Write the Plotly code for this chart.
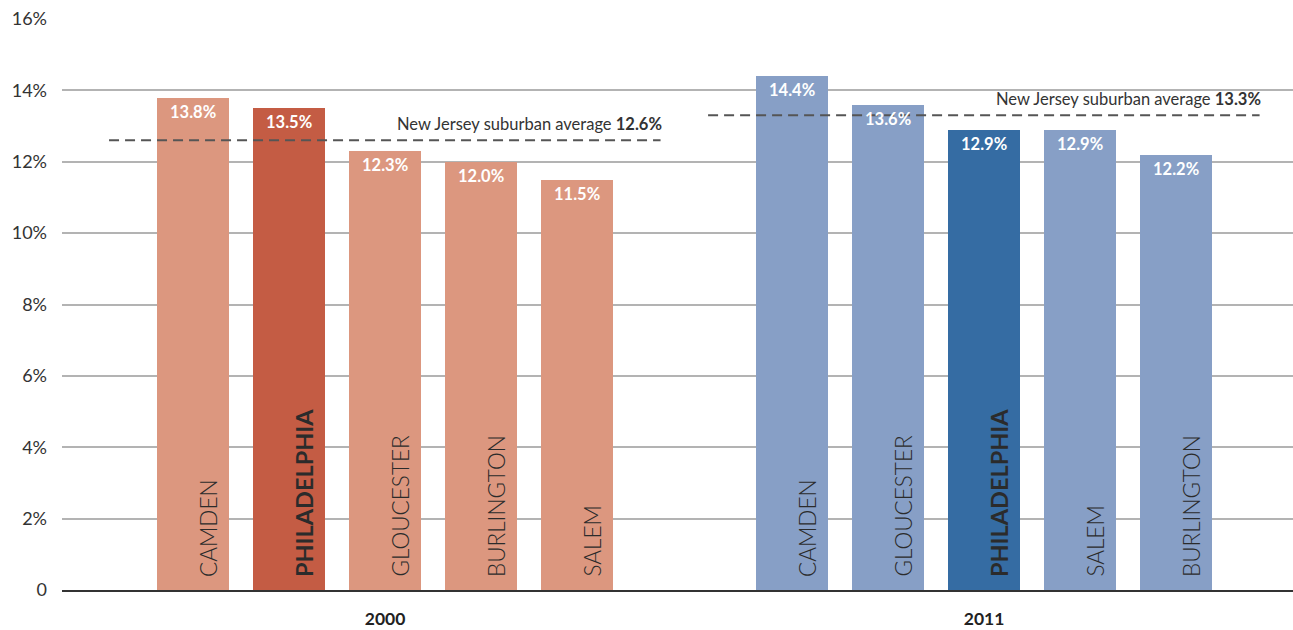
import plotly.graph_objects as go

# Share of residents (percent) by county, two survey years
years = ["2000", "2011"]
counties_2000 = ["CAMDEN", "PHILADELPHIA", "GLOUCESTER", "BURLINGTON", "SALEM"]
values_2000 = [13.8, 13.5, 12.3, 12.0, 11.5]
counties_2011 = ["CAMDEN", "GLOUCESTER", "PHILADELPHIA", "SALEM", "BURLINGTON"]
values_2011 = [14.4, 13.6, 12.9, 12.9, 12.2]
nj_avg = [12.6, 13.3]
highlight = "PHILADELPHIA"

y_ticks = [0, 2, 4, 6, 8, 10, 12, 14, 16]
y_ticktext = ["0" if t == 0 else f"{t}%" for t in y_ticks]

# styling
FONT = "Lato"
LIGHT = {"2000": "#dc977f", "2011": "#879fc6"}
DARK = {"2000": "#c45c44", "2011": "#356ca3"}
BAR_W = 0.75
GROUP_START = {"2000": 0.0, "2011": 6.24}

groups = [("2000", counties_2000, values_2000), ("2011", counties_2011, values_2011)]

fig = go.Figure()
annotations = []
shapes = []
tick_pos = []

for gi, (yr, names, vals) in enumerate(groups):
    xs = [GROUP_START[yr] + i for i in range(len(names))]
    colors = [DARK[yr] if n == highlight else LIGHT[yr] for n in names]
    fig.add_trace(go.Bar(
        x=xs, y=vals, width=BAR_W, marker=dict(color=colors, line=dict(width=0)),
        hoverinfo="skip", showlegend=False,
    ))
    tick_pos.append(xs[len(xs) // 2])

    for x, n, v in zip(xs, names, vals):
        # value at the top of each bar
        annotations.append(dict(
            x=x, y=v, xref="x", yref="y", text=f"{v:.1f}%", showarrow=False,
            xanchor="center", yanchor="top", yshift=-2,
            font=dict(family=FONT, size=16.5, color="white", weight=700),
        ))
        # county name, vertical inside the bar
        bold = n == highlight
        annotations.append(dict(
            x=x, y=0, xref="x", yref="y",
            text=f"<b>{n}</b>" if bold else n, textangle=-90, showarrow=False,
            xanchor="center", yanchor="bottom", xshift=15, yshift=11,
            font=dict(family=FONT, size=23.5 if bold else 22.5, color="#2b2b2b",
                      weight=900 if bold else 300),
        ))

    # dashed suburban-average line spanning the group
    x0, x1 = xs[0] - 0.875, xs[-1] + 0.87
    shapes.append(dict(
        type="line", xref="x", yref="y", x0=x0, x1=x1, y0=nj_avg[gi], y1=nj_avg[gi],
        line=dict(color="#555555", width=2, dash="10px,6px"), layer="above",
    ))
    annotations.append(dict(
        x=x1, y=nj_avg[gi], xref="x", yref="y",
        text=f"New Jersey suburban average <b>{nj_avg[gi]:.1f}%</b>",
        showarrow=False, xanchor="right", yanchor="bottom", xshift=3, yshift=4,
        font=dict(family=FONT, size=16.5, color="#333333"),
    ))

fig.update_layout(
    width=1293, height=630,
    margin=dict(l=62, r=0, t=19, b=40),
    paper_bgcolor="white", plot_bgcolor="white",
    bargap=0, barmode="overlay",
    annotations=annotations, shapes=shapes,
    font=dict(family=FONT, color="#333333"),
)
fig.update_yaxes(
    range=[0, 16], tickvals=y_ticks, ticktext=y_ticktext,
    showgrid=True, gridcolor="#b3b3b3", gridwidth=1.5,
    zeroline=False, showline=False, ticks="",
    ticklabelstandoff=14,
    tickfont=dict(family=FONT, size=18, color="#333333"),
)
fig.update_xaxes(
    range=[-1.365, 11.458], tickvals=tick_pos, ticktext=years,
    showgrid=False, zeroline=False,
    showline=True, linecolor="#333333", linewidth=2, ticks="",
    ticklabelstandoff=12,
    tickfont=dict(family=FONT, size=17.5, color="#222222", weight=700),
)

fig.write_html("out.html")
